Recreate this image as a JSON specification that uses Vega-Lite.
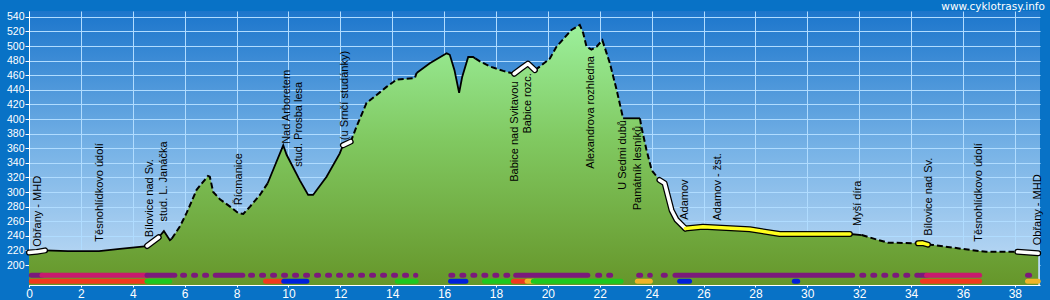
{
  "$schema": "https://vega.github.io/schema/vega-lite/v6.json",
  "width": 1011,
  "height": 274,
  "autosize": {"type": "none"},
  "padding": {"left": 29, "top": 11, "right": 10, "bottom": 15},
  "background": "#0872c6",
  "title": {"text": "www.cyklotrasy.info", "anchor": "end", "frame": "group", "color": "white", "fontSize": 10.5, "font": "DejaVu Sans", "fontWeight": "normal", "offset": -9, "baseline": "alphabetic", "dx": 5},
  "config": {
    "view": {
      "stroke": null,
      "fill": {"gradient": "linear", "x1": 0, "y1": 0, "x2": 0, "y2": 1, "stops": [{"offset": 0, "color": "#1c76cc"}, {"offset": 0.5, "color": "#76b2e6"}, {"offset": 1, "color": "#c4def6"}]}
    },
    "axisX": {"labelColor": "white", "labelFontSize": 12, "labelFont": "Liberation Sans", "tickColor": "white", "tickSize": 2, "labelPadding": 1, "domainColor": "white", "gridColor": "#b0dcff", "gridOpacity": 1, "labelFlush": false},
    "axisY": {"labelColor": "white", "labelFontSize": 10.5, "labelFont": "Liberation Sans", "tickColor": "white", "tickSize": 4, "labelPadding": 1, "domainColor": "white", "gridColor": "#b0dcff", "gridOpacity": 1, "labelFlush": false}
  },
  "datasets": {
    "profile": [
      {"km": 0, "ele": 217, "seg": 1, "s": "white"},
      {"km": 0.3, "ele": 218, "seg": 1, "s": "white"},
      {"km": 0.62, "ele": 220, "seg": 1, "s": "white"},
      {"km": 0.62, "ele": 220, "seg": 2, "s": "solid"},
      {"km": 1.5, "ele": 219, "seg": 2, "s": "solid"},
      {"km": 2.7, "ele": 219, "seg": 2, "s": "solid"},
      {"km": 3.5, "ele": 222, "seg": 2, "s": "solid"},
      {"km": 4.55, "ele": 226, "seg": 2, "s": "solid"},
      {"km": 4.55, "ele": 226, "seg": 3, "s": "white"},
      {"km": 5.0, "ele": 238, "seg": 3, "s": "white"},
      {"km": 5.0, "ele": 238, "seg": 4, "s": "solid"},
      {"km": 5.2, "ele": 246.5, "seg": 4, "s": "solid"},
      {"km": 5.43, "ele": 234, "seg": 4, "s": "solid"},
      {"km": 5.5, "ele": 236, "seg": 4, "s": "solid"},
      {"km": 5.5, "ele": 236, "seg": 5, "s": "dash"},
      {"km": 5.82, "ele": 253, "seg": 5, "s": "dash"},
      {"km": 6.07, "ele": 271, "seg": 5, "s": "dash"},
      {"km": 6.46, "ele": 303, "seg": 5, "s": "dash"},
      {"km": 6.9, "ele": 322, "seg": 5, "s": "dash"},
      {"km": 6.97, "ele": 321, "seg": 5, "s": "dash"},
      {"km": 7.1, "ele": 300, "seg": 5, "s": "dash"},
      {"km": 7.36, "ele": 290, "seg": 5, "s": "dash"},
      {"km": 7.75, "ele": 280, "seg": 5, "s": "dash"},
      {"km": 8.07, "ele": 271, "seg": 5, "s": "dash"},
      {"km": 8.26, "ele": 270, "seg": 5, "s": "dash"},
      {"km": 8.52, "ele": 280, "seg": 5, "s": "dash"},
      {"km": 8.9, "ele": 296, "seg": 5, "s": "dash"},
      {"km": 9.2, "ele": 312, "seg": 5, "s": "dash"},
      {"km": 9.2, "ele": 312, "seg": 6, "s": "solid"},
      {"km": 9.5, "ele": 338, "seg": 6, "s": "solid"},
      {"km": 9.8, "ele": 364, "seg": 6, "s": "solid"},
      {"km": 9.93, "ele": 351, "seg": 6, "s": "solid"},
      {"km": 10.44, "ele": 316, "seg": 6, "s": "solid"},
      {"km": 10.76, "ele": 296, "seg": 6, "s": "solid"},
      {"km": 10.95, "ele": 296, "seg": 6, "s": "solid"},
      {"km": 11.47, "ele": 321, "seg": 6, "s": "solid"},
      {"km": 11.98, "ele": 353, "seg": 6, "s": "solid"},
      {"km": 12.1, "ele": 364, "seg": 6, "s": "solid"},
      {"km": 12.1, "ele": 364, "seg": 7, "s": "white"},
      {"km": 12.4, "ele": 369, "seg": 7, "s": "white"},
      {"km": 12.4, "ele": 369, "seg": 8, "s": "dash"},
      {"km": 12.63, "ele": 390, "seg": 8, "s": "dash"},
      {"km": 13.01, "ele": 422, "seg": 8, "s": "dash"},
      {"km": 13.4, "ele": 433, "seg": 8, "s": "dash"},
      {"km": 13.78, "ele": 444, "seg": 8, "s": "dash"},
      {"km": 14.17, "ele": 454, "seg": 8, "s": "dash"},
      {"km": 14.87, "ele": 456, "seg": 8, "s": "dash"},
      {"km": 14.94, "ele": 463, "seg": 8, "s": "dash"},
      {"km": 14.94, "ele": 463, "seg": 9, "s": "solid"},
      {"km": 15.45, "ele": 476.5, "seg": 9, "s": "solid"},
      {"km": 16.1, "ele": 490, "seg": 9, "s": "solid"},
      {"km": 16.22, "ele": 488, "seg": 9, "s": "solid"},
      {"km": 16.4, "ele": 467, "seg": 9, "s": "solid"},
      {"km": 16.58, "ele": 436, "seg": 9, "s": "solid"},
      {"km": 16.7, "ele": 458, "seg": 9, "s": "solid"},
      {"km": 16.93, "ele": 485, "seg": 9, "s": "solid"},
      {"km": 17.12, "ele": 485, "seg": 9, "s": "solid"},
      {"km": 17.2, "ele": 483, "seg": 9, "s": "solid"},
      {"km": 17.2, "ele": 483, "seg": 10, "s": "dash"},
      {"km": 17.38, "ele": 479, "seg": 10, "s": "dash"},
      {"km": 17.76, "ele": 472, "seg": 10, "s": "dash"},
      {"km": 18.28, "ele": 466, "seg": 10, "s": "dash"},
      {"km": 18.7, "ele": 462, "seg": 10, "s": "dash"},
      {"km": 18.7, "ele": 462, "seg": 11, "s": "white"},
      {"km": 19.0, "ele": 470, "seg": 11, "s": "white"},
      {"km": 19.23, "ele": 476, "seg": 11, "s": "white"},
      {"km": 19.5, "ele": 467, "seg": 11, "s": "white"},
      {"km": 19.5, "ele": 467, "seg": 12, "s": "dash"},
      {"km": 19.7, "ele": 472, "seg": 12, "s": "dash"},
      {"km": 20.08, "ele": 483, "seg": 12, "s": "dash"},
      {"km": 20.33, "ele": 499, "seg": 12, "s": "dash"},
      {"km": 20.91, "ele": 522, "seg": 12, "s": "dash"},
      {"km": 21.23, "ele": 529, "seg": 12, "s": "dash"},
      {"km": 21.36, "ele": 518, "seg": 12, "s": "dash"},
      {"km": 21.49, "ele": 499, "seg": 12, "s": "dash"},
      {"km": 21.68, "ele": 495, "seg": 12, "s": "dash"},
      {"km": 21.88, "ele": 499, "seg": 12, "s": "dash"},
      {"km": 22.1, "ele": 508, "seg": 12, "s": "dash"},
      {"km": 22.39, "ele": 476.5, "seg": 12, "s": "dash"},
      {"km": 22.65, "ele": 440, "seg": 12, "s": "dash"},
      {"km": 22.9, "ele": 401, "seg": 12, "s": "dash"},
      {"km": 22.9, "ele": 401, "seg": 13, "s": "solid"},
      {"km": 23.55, "ele": 401, "seg": 13, "s": "solid"},
      {"km": 23.55, "ele": 401, "seg": 14, "s": "dash"},
      {"km": 23.6, "ele": 390, "seg": 14, "s": "dash"},
      {"km": 23.8, "ele": 358, "seg": 14, "s": "dash"},
      {"km": 24.0, "ele": 330, "seg": 14, "s": "dash"},
      {"km": 24.3, "ele": 316.5, "seg": 14, "s": "dash"},
      {"km": 24.3, "ele": 316.5, "seg": 15, "s": "white"},
      {"km": 24.5, "ele": 312, "seg": 15, "s": "white"},
      {"km": 24.77, "ele": 275, "seg": 15, "s": "white"},
      {"km": 24.96, "ele": 262, "seg": 15, "s": "white"},
      {"km": 25.3, "ele": 250, "seg": 15, "s": "white"},
      {"km": 25.3, "ele": 250, "seg": 16, "s": "yellow"},
      {"km": 25.98, "ele": 252.5, "seg": 16, "s": "yellow"},
      {"km": 27.78, "ele": 249, "seg": 16, "s": "yellow"},
      {"km": 28.94, "ele": 242.5, "seg": 16, "s": "yellow"},
      {"km": 31.64, "ele": 242.5, "seg": 16, "s": "yellow"},
      {"km": 31.64, "ele": 242.5, "seg": 17, "s": "solid"},
      {"km": 32.1, "ele": 241, "seg": 17, "s": "solid"},
      {"km": 32.1, "ele": 241, "seg": 18, "s": "dash"},
      {"km": 32.67, "ele": 235, "seg": 18, "s": "dash"},
      {"km": 33.1, "ele": 230.6, "seg": 18, "s": "dash"},
      {"km": 34.27, "ele": 229.7, "seg": 18, "s": "dash"},
      {"km": 34.27, "ele": 229.7, "seg": 19, "s": "yellow"},
      {"km": 34.45, "ele": 230, "seg": 19, "s": "yellow"},
      {"km": 34.65, "ele": 228, "seg": 19, "s": "yellow"},
      {"km": 34.65, "ele": 228, "seg": 20, "s": "dash"},
      {"km": 34.85, "ele": 227.4, "seg": 20, "s": "dash"},
      {"km": 36.0, "ele": 222, "seg": 20, "s": "dash"},
      {"km": 36.9, "ele": 218, "seg": 20, "s": "dash"},
      {"km": 38.1, "ele": 218, "seg": 20, "s": "dash"},
      {"km": 38.1, "ele": 218, "seg": 21, "s": "white"},
      {"km": 38.5, "ele": 217, "seg": 21, "s": "white"},
      {"km": 38.9, "ele": 216, "seg": 21, "s": "white"}
    ],
    "labels": [
      {"km": 0.33, "ele": 225, "name": "Obřany - MHD"},
      {"km": 2.74, "ele": 232, "name": "Těsnohlídkovo údolí"},
      {"km": 4.66, "ele": 238, "name": "Bílovice nad Sv."},
      {"km": 5.21, "ele": 259.5, "name": "stud. L. Janáčka"},
      {"km": 8.1, "ele": 282, "name": "Řícmanice"},
      {"km": 9.93, "ele": 366, "name": "Nad Arboretem"},
      {"km": 10.42, "ele": 334.5, "name": "stud. Prosba lesa"},
      {"km": 12.18, "ele": 371, "name": "(u Srnčí studánky)"},
      {"km": 18.73, "ele": 314, "name": "Babice nad Svitavou"},
      {"km": 19.24, "ele": 380, "name": "Babice rozc."},
      {"km": 21.68, "ele": 332, "name": "Alexandrova rozhledna"},
      {"km": 22.88, "ele": 303, "name": "U Sedmi dubů"},
      {"km": 23.46, "ele": 275, "name": "Památník lesníků"},
      {"km": 25.28, "ele": 262, "name": "Adamov"},
      {"km": 26.56, "ele": 261, "name": "Adamov - žst."},
      {"km": 31.96, "ele": 253.5, "name": "Myší díra"},
      {"km": 34.7, "ele": 240, "name": "Bílovice nad Sv."},
      {"km": 36.62, "ele": 232, "name": "Těsnohlídkovo údolí"},
      {"km": 38.9, "ele": 227, "name": "Obřany - MHD"}
    ],
    "bars": [
      {"a": 0.09, "b": 0.5, "c": "purple", "lane": "u", "dot": false},
      {"a": 0.5, "b": 4.55, "c": "magenta", "lane": "u", "dot": false},
      {"a": 4.55, "b": 5.62, "c": "purple", "lane": "u", "dot": false},
      {"a": 7.18, "b": 8.24, "c": "purple", "lane": "u", "dot": false},
      {"a": 18.76, "b": 21.54, "c": "purple", "lane": "u", "dot": false},
      {"a": 24.9, "b": 31.75, "c": "purple", "lane": "u", "dot": false},
      {"a": 34.38, "b": 34.6, "c": "purple", "lane": "u", "dot": false},
      {"a": 34.6, "b": 36.64, "c": "magenta", "lane": "u", "dot": false},
      {"a": 5.92, "b": 6.9, "c": "purple", "lane": "u", "dot": true},
      {"a": 8.54, "b": 14.91, "c": "purple", "lane": "u", "dot": true},
      {"a": 16.26, "b": 18.51, "c": "purple", "lane": "u", "dot": true},
      {"a": 21.92, "b": 22.75, "c": "purple", "lane": "u", "dot": true},
      {"a": 23.5, "b": 23.95, "c": "purple", "lane": "u", "dot": true},
      {"a": 24.45, "b": 24.55, "c": "purple", "lane": "u", "dot": true},
      {"a": 32.1, "b": 34.38, "c": "purple", "lane": "u", "dot": true},
      {"a": 38.49, "b": 38.9, "c": "purple", "lane": "u", "dot": true},
      {"a": 0.09, "b": 4.55, "c": "red", "lane": "l", "dot": false},
      {"a": 4.55, "b": 5.42, "c": "green", "lane": "l", "dot": false},
      {"a": 9.12, "b": 9.82, "c": "red", "lane": "l", "dot": false},
      {"a": 9.82, "b": 10.71, "c": "blue", "lane": "l", "dot": false},
      {"a": 14.2, "b": 14.92, "c": "green", "lane": "l", "dot": false},
      {"a": 16.25, "b": 16.84, "c": "blue", "lane": "l", "dot": false},
      {"a": 17.56, "b": 18.67, "c": "green", "lane": "l", "dot": false},
      {"a": 18.67, "b": 19.2, "c": "red", "lane": "l", "dot": false},
      {"a": 19.2, "b": 19.44, "c": "orange", "lane": "l", "dot": false},
      {"a": 19.44, "b": 22.82, "c": "green", "lane": "l", "dot": false},
      {"a": 23.45, "b": 23.95, "c": "orange", "lane": "l", "dot": false},
      {"a": 25.08, "b": 25.46, "c": "blue", "lane": "l", "dot": false},
      {"a": 29.5, "b": 29.63, "c": "blue", "lane": "l", "dot": false},
      {"a": 34.44, "b": 36.64, "c": "red", "lane": "l", "dot": false},
      {"a": 38.49, "b": 38.9, "c": "orange", "lane": "l", "dot": false}
    ]
  },
  "encoding": {
    "x": {
      "field": "km", "type": "quantitative",
      "scale": {"domain": [0, 38.97], "nice": false, "zero": false},
      "axis": {"title": null, "values": [0, 2, 4, 6, 8, 10, 12, 14, 16, 18, 20, 22, 24, 26, 28, 30, 32, 34, 36, 38]}
    }
  },
  "layer": [
    {
      "data": {"name": "profile"},
      "mark": {"type": "area", "line": false, "fill": {"gradient": "linear", "x1": 0, "y1": 0, "x2": 0, "y2": 1, "stops": [{"offset": 0, "color": "#9cf09c"}, {"offset": 0.45, "color": "#80c860"}, {"offset": 1, "color": "#66962a"}]}},
      "encoding": {
        "y": {"field": "ele", "type": "quantitative", "stack": null,
          "scale": {"domain": [172.6, 548], "nice": false, "zero": false},
          "axis": {"title": null, "values": [200, 220, 240, 260, 280, 300, 320, 340, 360, 380, 400, 420, 440, 460, 480, 500, 520, 540]}}
      }
    },
    {
      "data": {"name": "profile"},
      "transform": [{"filter": "datum.s === 'dash'"}],
      "mark": {"type": "line", "color": "black", "strokeWidth": 2, "strokeDash": [6, 3]},
      "encoding": {"y": {"field": "ele", "type": "quantitative", "scale": {"domain": [172.6, 548], "nice": false, "zero": false}, "axis": {"title": null, "values": [200, 220, 240, 260, 280, 300, 320, 340, 360, 380, 400, 420, 440, 460, 480, 500, 520, 540]}}, "detail": {"field": "seg"}}
    },
    {
      "data": {"name": "profile"},
      "transform": [{"filter": "datum.s === 'solid'"}],
      "mark": {"type": "line", "color": "black", "strokeWidth": 1.8},
      "encoding": {"y": {"field": "ele", "type": "quantitative", "scale": {"domain": [172.6, 548], "nice": false, "zero": false}, "axis": {"title": null, "values": [200, 220, 240, 260, 280, 300, 320, 340, 360, 380, 400, 420, 440, 460, 480, 500, 520, 540]}}, "detail": {"field": "seg"}}
    },
    {
      "data": {"name": "profile"},
      "transform": [{"filter": "datum.s === 'white' || datum.s === 'yellow'"}],
      "mark": {"type": "line", "color": "black", "strokeWidth": 6, "strokeCap": "round", "strokeJoin": "round"},
      "encoding": {"y": {"field": "ele", "type": "quantitative", "scale": {"domain": [172.6, 548], "nice": false, "zero": false}, "axis": {"title": null, "values": [200, 220, 240, 260, 280, 300, 320, 340, 360, 380, 400, 420, 440, 460, 480, 500, 520, 540]}}, "detail": {"field": "seg"}}
    },
    {
      "data": {"name": "profile"},
      "transform": [{"filter": "datum.s === 'white'"}],
      "mark": {"type": "line", "color": "white", "strokeWidth": 3.5, "strokeCap": "round", "strokeJoin": "round"},
      "encoding": {"y": {"field": "ele", "type": "quantitative", "scale": {"domain": [172.6, 548], "nice": false, "zero": false}, "axis": {"title": null, "values": [200, 220, 240, 260, 280, 300, 320, 340, 360, 380, 400, 420, 440, 460, 480, 500, 520, 540]}}, "detail": {"field": "seg"}}
    },
    {
      "data": {"name": "profile"},
      "transform": [{"filter": "datum.s === 'yellow'"}],
      "mark": {"type": "line", "color": "#ffff1e", "strokeWidth": 3.5, "strokeCap": "round", "strokeJoin": "round"},
      "encoding": {"y": {"field": "ele", "type": "quantitative", "scale": {"domain": [172.6, 548], "nice": false, "zero": false}, "axis": {"title": null, "values": [200, 220, 240, 260, 280, 300, 320, 340, 360, 380, 400, 420, 440, 460, 480, 500, 520, 540]}}, "detail": {"field": "seg"}}
    },
    {
      "data": {"name": "labels"},
      "mark": {"type": "text", "angle": 270, "align": "left", "baseline": "middle", "font": "Liberation Sans", "fontSize": 11, "color": "black"},
      "encoding": {"y": {"field": "ele", "type": "quantitative", "scale": {"domain": [172.6, 548], "nice": false, "zero": false}, "axis": {"title": null, "values": [200, 220, 240, 260, 280, 300, 320, 340, 360, 380, 400, 420, 440, 460, 480, 500, 520, 540]}}, "text": {"field": "name"}}
    },
    {
      "data": {"name": "bars"},
      "transform": [{"filter": "datum.lane === 'u' && !datum.dot"}],
      "mark": {"type": "rule", "strokeWidth": 5, "strokeCap": "round"},
      "encoding": {
        "x": {"field": "a", "type": "quantitative"},
        "x2": {"field": "b"},
        "y": {"datum": 185.9, "type": "quantitative", "scale": {"domain": [172.6, 548], "nice": false, "zero": false}, "axis": {"title": null, "values": [200, 220, 240, 260, 280, 300, 320, 340, 360, 380, 400, 420, 440, 460, 480, 500, 520, 540]}},
        "color": {"field": "c", "type": "nominal", "scale": {"domain": ["purple", "magenta", "red", "green", "blue", "orange"], "range": ["#7b1a7b", "#c81a6e", "#f03a1e", "#1ec81e", "#0020dc", "#f0b428"]}, "legend": null}
      }
    },
    {
      "data": {"name": "bars"},
      "transform": [{"filter": "datum.dot"}],
      "mark": {"type": "rule", "strokeWidth": 5, "strokeCap": "round", "strokeDash": [2, 9], "color": "#7b1a7b"},
      "encoding": {
        "x": {"field": "a", "type": "quantitative"},
        "x2": {"field": "b"},
        "y": {"datum": 185.9, "type": "quantitative", "scale": {"domain": [172.6, 548], "nice": false, "zero": false}, "axis": {"title": null, "values": [200, 220, 240, 260, 280, 300, 320, 340, 360, 380, 400, 420, 440, 460, 480, 500, 520, 540]}}
      }
    },
    {
      "data": {"name": "bars"},
      "transform": [{"filter": "datum.lane === 'l'"}],
      "mark": {"type": "rule", "strokeWidth": 5, "strokeCap": "round"},
      "encoding": {
        "x": {"field": "a", "type": "quantitative"},
        "x2": {"field": "b"},
        "y": {"datum": 177.6, "type": "quantitative", "scale": {"domain": [172.6, 548], "nice": false, "zero": false}, "axis": {"title": null, "values": [200, 220, 240, 260, 280, 300, 320, 340, 360, 380, 400, 420, 440, 460, 480, 500, 520, 540]}},
        "color": {"field": "c", "type": "nominal", "legend": null}
      }
    }
  ]
}
